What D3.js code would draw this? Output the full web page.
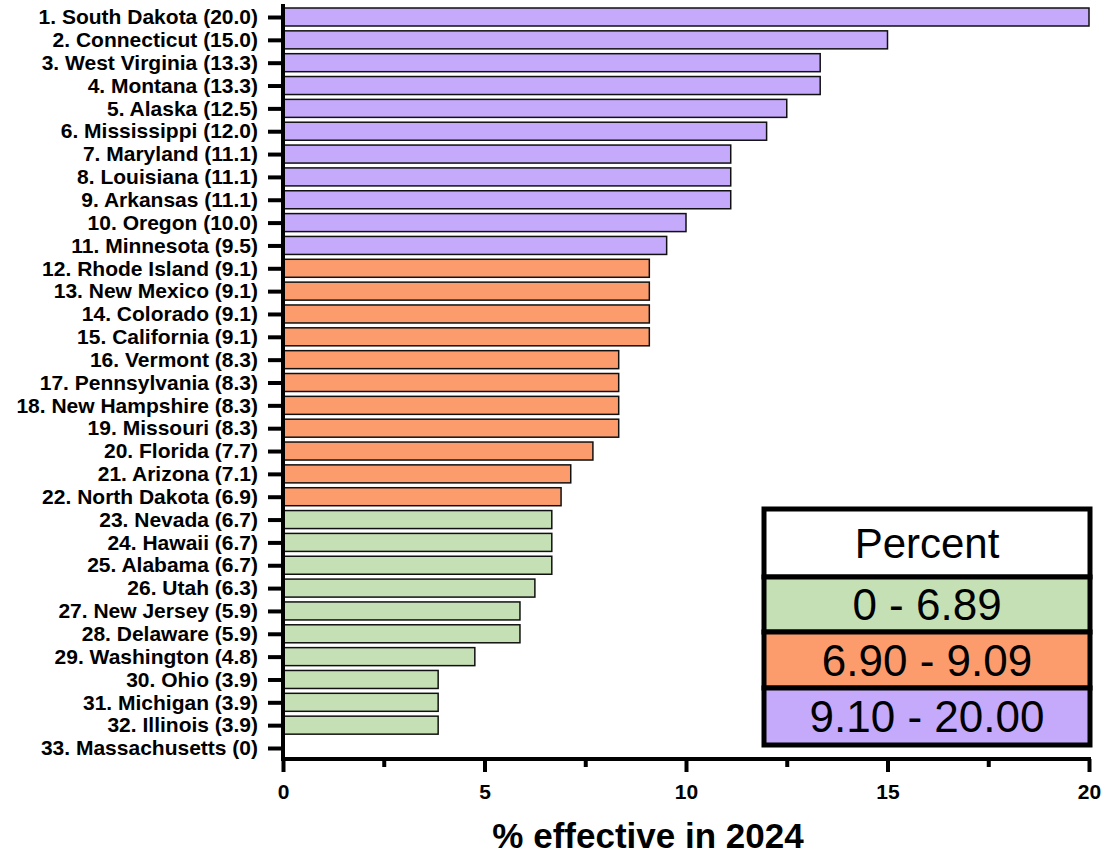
<!DOCTYPE html>
<html>
<head>
<meta charset="utf-8">
<script src="https://cdn.jsdelivr.net/npm/d3@7"></script>
<style>
  html, body { margin: 0; padding: 0; background: #fff; }
  svg { display: block; font-family: "Liberation Sans", Arial, sans-serif; }
</style>
</head>
<body>
<svg id="chart" width="1105" height="855"></svg>
<script>
const states = ["South Dakota","Connecticut","West Virginia","Montana","Alaska","Mississippi","Maryland","Louisiana","Arkansas","Oregon","Minnesota","Rhode Island","New Mexico","Colorado","California","Vermont","Pennsylvania","New Hampshire","Missouri","Florida","Arizona","North Dakota","Nevada","Hawaii","Alabama","Utah","New Jersey","Delaware","Washington","Ohio","Michigan","Illinois","Massachusetts"];
const values = [20.0,15.0,13.33,13.33,12.5,12.0,11.11,11.11,11.11,10.0,9.52,9.09,9.09,9.09,9.09,8.33,8.33,8.33,8.33,7.69,7.14,6.9,6.67,6.67,6.67,6.25,5.88,5.88,4.76,3.85,3.85,3.85,0];
const valueLabels = ["20.0","15.0","13.3","13.3","12.5","12.0","11.1","11.1","11.1","10.0","9.5","9.1","9.1","9.1","9.1","8.3","8.3","8.3","8.3","7.7","7.1","6.9","6.7","6.7","6.7","6.3","5.9","5.9","4.8","3.9","3.9","3.9","0"];
const xTicks = [0,5,10,15,20];
const xMinorTicks = [2.5,7.5,12.5,17.5];
const legendTitle = "Percent";
const legendLabels = ["0 - 6.89","6.90 - 9.09","9.10 - 20.00"];
const legendThresholds = [6.9, 9.1];
const legendColors = ["#c5e0b4","#fc9c6c","#c5a9fa"];
const xTitle = "% effective in 2024";

const svg = d3.select("#chart");
const rowKeys = states.map((s,i) => (i+1) + ". " + s + " (" + valueLabels[i] + ")");

const x = d3.scaleLinear().domain([0,20]).range([283,1089]);
const y = d3.scalePoint().domain(rowKeys).range([17,748]);
const color = d3.scaleThreshold().domain(legendThresholds).range(legendColors);
const barH = 18;
const axisY = 759;

// bars
svg.append("g").selectAll("rect")
  .data(values.map((v,i)=>({v, k: rowKeys[i]})).filter(d => d.v > 0))
  .join("rect")
  .attr("x", x(0))
  .attr("y", d => y(d.k) - barH/2)
  .attr("width", d => x(d.v) - x(0))
  .attr("height", barH)
  .attr("fill", d => color(d.v))
  .attr("stroke", "#111")
  .attr("stroke-width", 1.5);

// y axis
const yAxis = svg.append("g").attr("transform", `translate(${x(0)},0)`)
  .call(d3.axisLeft(y).tickSize(15).tickPadding(10));
yAxis.select(".domain").remove();
yAxis.selectAll(".tick line").attr("stroke", "#000").attr("stroke-width", 4);
yAxis.selectAll(".tick text").attr("fill", "#000").attr("font-size", 21).attr("font-weight", "bold")
  .attr("font-family", "'Liberation Sans', Arial, sans-serif");
svg.append("line").attr("x1", x(0)).attr("x2", x(0)).attr("y1", 4).attr("y2", axisY + 2)
  .attr("stroke", "#000").attr("stroke-width", 4);

// x axis
const xAxis = svg.append("g").attr("transform", `translate(0,${axisY})`)
  .call(d3.axisBottom(x).tickValues(xTicks).tickFormat(d3.format("d")).tickSize(13).tickPadding(12).tickSizeOuter(0));
xAxis.select(".domain").remove();
xAxis.selectAll(".tick line").attr("stroke", "#000").attr("stroke-width", 4);
xAxis.selectAll(".tick text").attr("fill", "#000").attr("font-size", 21).attr("font-weight", "bold")
  .attr("font-family", "'Liberation Sans', Arial, sans-serif");
const xMinor = svg.append("g").attr("transform", `translate(0,${axisY})`)
  .call(d3.axisBottom(x).tickValues(xMinorTicks).tickFormat("").tickSize(8).tickSizeOuter(0));
xMinor.select(".domain").remove();
xMinor.selectAll(".tick line").attr("stroke", "#000").attr("stroke-width", 4);
svg.append("line").attr("x1", x(0) - 2).attr("x2", x(20) + 2).attr("y1", axisY).attr("y2", axisY)
  .attr("stroke", "#000").attr("stroke-width", 4);

svg.append("text").attr("x", 648).attr("y", 848).attr("text-anchor", "middle")
  .attr("font-size", 35).attr("font-weight", "bold").attr("fill", "#000").text(xTitle);

// legend
const lg = svg.append("g");
const rows = [{label: legendTitle, color: "#fff", y0: 509, y1: 577, fs: 42}]
  .concat(legendLabels.map((l,i) => ({label: l, color: legendColors[i],
    y0: [577,632,688][i], y1: [632,688,745][i], fs: 44})));
lg.selectAll("rect").data(rows).join("rect")
  .attr("x", 764).attr("width", 326)
  .attr("y", d => d.y0).attr("height", d => d.y1 - d.y0)
  .attr("fill", d => d.color).attr("stroke", "#000").attr("stroke-width", 5);
lg.selectAll("text").data(rows).join("text")
  .attr("x", 927).attr("y", d => (d.y0 + d.y1)/2)
  .attr("dy", "0.36em").attr("text-anchor", "middle")
  .attr("font-size", d => d.fs).attr("fill", "#000")
  .text(d => d.label);
</script>
</body>
</html>
